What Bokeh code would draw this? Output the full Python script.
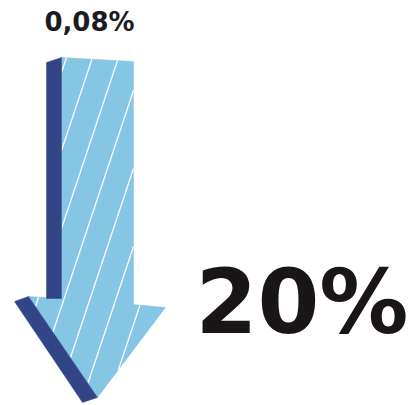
import numpy as np
from bokeh.plotting import figure
from bokeh.models import Range1d
from bokeh.core.properties import value
from bokeh.embed import file_html
from bokeh.resources import INLINE

# values shown in the infographic
small_label = ["0,08%"]
big_label = ["20%"]

# arrow pictogram outline (in picture units)
face_x = [61, 133, 133, 165, 97, 28, 61]
face_y = [57, 61, 304, 307, 397, 296, 298]
shaft_side_x = [46, 61, 61, 46]
shaft_side_y = [62, 57, 298, 298]
head_side_x = [14, 28, 97, 82]
head_side_y = [301, 296, 397, 402]
stripe_x0 = [66, 92, 118, 144, 170, 196, 222]  # stripe position at y=57

LIGHT = "#86C6E5"
DARK = "#324687"


def inside(px, py, vx, vy):
    res = np.zeros(len(px), dtype=bool)
    n = len(vx)
    j = n - 1
    for i in range(n):
        xi, yi, xj, yj = vx[i], vy[i], vx[j], vy[j]
        cond = ((yi > py) != (yj > py))
        xint = (xj - xi) * (py - yi) / ((yj - yi) if yj != yi else 1e-9) + xi
        res ^= cond & (px < xint)
        j = i
    return res


p = figure(width=411, height=405, output_backend="svg", toolbar_location=None,
           x_range=Range1d(0, 411), y_range=Range1d(405, 0), min_border=0)
p.axis.visible = False
p.grid.visible = False
p.outline_line_color = None
p.background_fill_color = "white"
p.border_fill_color = "white"

p.patch(face_x, face_y, fill_color=LIGHT, line_color=LIGHT, line_width=0.5)

# stripes clipped to face
xs_l, ys_l = [], []
ys = np.linspace(50, 405, 4000)
for x0 in stripe_x0:
    xs = x0 - (ys - 57) / 3.0
    m = inside(xs, ys, face_x, face_y)
    idx = np.flatnonzero(np.diff(np.concatenate([[0], m.astype(int), [0]])))
    for a, b in zip(idx[::2], idx[1::2]):
        if b - a > 2:
            xs_l.append(list(xs[a:b]))
            ys_l.append(list(ys[a:b]))
p.multi_line(xs_l, ys_l, line_color="white", line_width=1.3)

p.patch(shaft_side_x, shaft_side_y, fill_color=DARK, line_color=DARK, line_width=0.5)
p.patch(head_side_x, head_side_y, fill_color=DARK, line_color=DARK, line_width=0.5)

p.text(x=[89], y=[21], text=small_label, text_font=value("DejaVu Sans"),
       text_font_style="bold", text_font_size="26px", text_color="#1b1b24",
       text_align="center", text_baseline="alphabetic")
p.text(x=[195], y=[301], text=big_label, text_font=value("DejaVu Sans"),
       text_font_style="bold", text_font_size="89px", text_color="#1a1616",
       text_align="left", text_baseline="alphabetic")

open("out.html", "w").write(file_html(p, INLINE))
